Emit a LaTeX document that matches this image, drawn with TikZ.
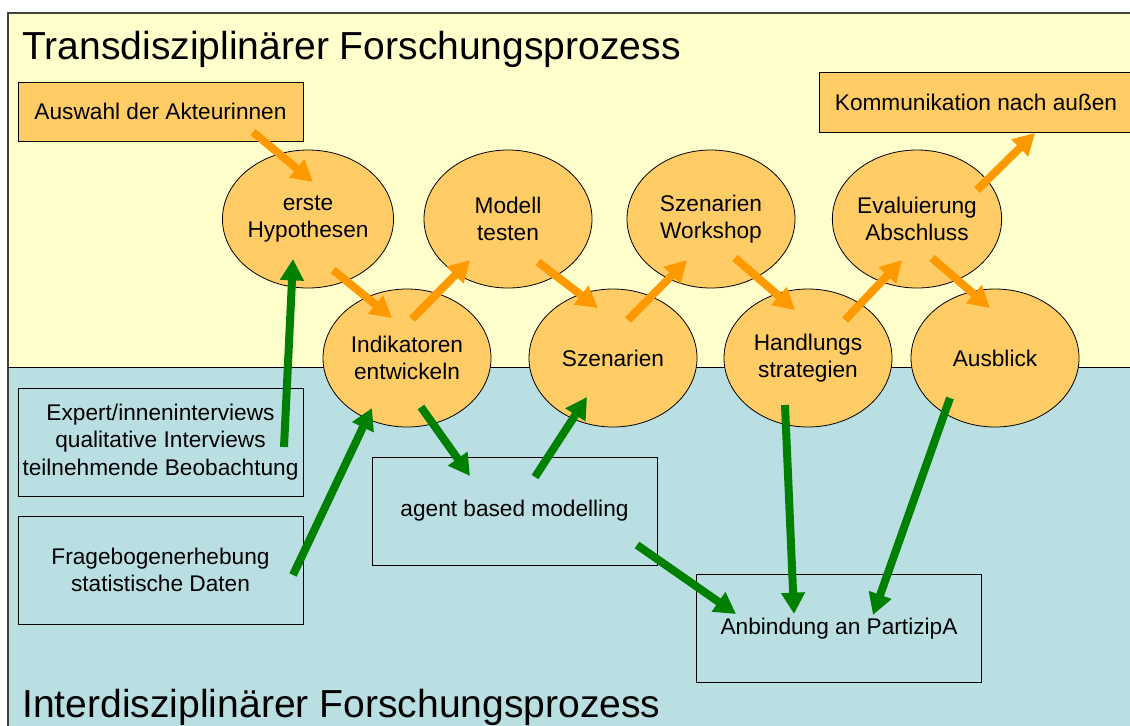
\documentclass[tikz,border=0pt]{standalone}
\usepackage{fontspec}
\setmainfont{Liberation Sans}
\usetikzlibrary{arrows.meta,shapes.geometric}
\definecolor{paleyellow}{HTML}{FFFFCC}
\definecolor{paleblue}{HTML}{B9DFE3}
\definecolor{ovalfill}{HTML}{FFCC66}
\definecolor{orangearrow}{HTML}{FF9900}
\definecolor{greenarrow}{HTML}{008000}
\tikzset{%
    >={Triangle[length=16pt,width=17pt]}
}

\begin{document}
\begin{tikzpicture}[x=0.75pt, y=-0.75pt,
  every node/.style={font=\fontsize{17}{20.6}\selectfont},
  heading/.style={anchor=base west, inner sep=0pt, font=\fontsize{29.3}{35}\selectfont},
  oval/.style={ellipse, draw, line width=0.6pt, fill=ovalfill, minimum width=126pt, minimum height=103.5pt, align=center, inner sep=0pt},
  textbox/.style={rectangle, draw, line width=0.6pt, minimum width=213.75pt, minimum height=81pt, align=center, inner sep=0pt},
  orangeflow/.style={->, draw=orangearrow, fill=orangearrow, line width=6pt},
  greenflow/.style={->, draw=greenarrow, fill=greenarrow, line width=6pt}]
  \useasboundingbox (0,0) rectangle (1130,725);
  \clip (0,0) rectangle (1130,725);

  \fill[white] (0,0) rectangle (1130,725);
  \fill[paleyellow] (8,13) rectangle (1140,367);
  \fill[paleblue] (8,367) rectangle (1140,740);
  \draw[line width=0.8pt, black!75] (8,740) -- (8,13) -- (1140,13);
  \draw[line width=0.6pt] (8,367) -- (1140,367);

  \node[heading] (transtitle) at (22,59) {Transdisziplinärer Forschungsprozess};
  \node[heading] (intertitle) at (22,717) {Interdisziplinärer Forschungsprozess};

  \node[rectangle, draw, line width=0.6pt, fill=ovalfill, minimum width=213.75pt, minimum height=44.25pt, inner sep=0pt] (auswahl) at (160.5,111.5) {Auswahl der Akteurinnen};
  \node[rectangle, draw, line width=0.6pt, fill=ovalfill, minimum width=235.5pt, minimum height=45pt, inner sep=0pt] (komm) at (976,102) {Kommunikation nach außen};

  \node[oval] (hyp) at (308,219) {erste\\Hypothesen};
  \node[oval] (mod) at (508,219) {Modell\\testen};
  \node[oval] (ws) at (711,219) {Szenarien\\Workshop};
  \node[oval] (eval) at (917,219) {Evaluierung\\Abschluss};
  \node[oval] (ind) at (407,358) {Indikatoren\\entwickeln};
  \node[oval] (szen) at (613,358) {Szenarien};
  \node[oval] (hand) at (808,358) {Handlungs\\strategien};
  \node[oval] (aus) at (995,358) {Ausblick};

  \node[textbox] (expert) at (160.5,442) {Expert/inneninterviews\\qualitative Interviews\\teilnehmende Beobachtung};
  \node[textbox] (frage) at (160.5,570) {Fragebogenerhebung\\statistische Daten};
  \node[textbox] (agent) at (514.5,511) {agent based modelling};
  \node[textbox] (anb) at (839,628.5) {Anbindung an PartizipA};

  \draw[orangeflow] ([shift={(92.5,20.5)}]auswahl.center) -- ([shift={(5,-37)}]hyp.center);
  \draw[orangeflow] ([shift={(25,51)}]hyp.center) -- ([shift={(-15,-40)}]ind.center);
  \draw[orangeflow] ([shift={(5,-39)}]ind.center) -- ([shift={(-38,41)}]mod.center);
  \draw[orangeflow] ([shift={(30,43)}]mod.center) -- ([shift={(-15,-50)}]szen.center);
  \draw[orangeflow] ([shift={(15,-38)}]szen.center) -- ([shift={(-24,41)}]ws.center);
  \draw[orangeflow] ([shift={(24,39)}]ws.center) -- ([shift={(-13,-48)}]hand.center);
  \draw[orangeflow] ([shift={(37,-38)}]hand.center) -- ([shift={(-15,41)}]eval.center);
  \draw[orangeflow] ([shift={(15,39)}]eval.center) -- ([shift={(-5,-50)}]aus.center);
  \draw[orangeflow] ([shift={(60,-29)}]eval.center) -- ([shift={(59,31)}]komm.center);

  \draw[greenflow] ([shift={(123.5,5)}]expert.center) -- ([shift={(-15,40)}]hyp.center);
  \draw[greenflow] ([shift={(132.5,5)}]frage.center) -- ([shift={(-35,50)}]ind.center);
  \draw[greenflow] ([shift={(14,49)}]ind.center) -- ([shift={(-44.5,-35)}]agent.center);
  \draw[greenflow] ([shift={(20.5,-34)}]agent.center) -- ([shift={(-26,39)}]szen.center);
  \draw[greenflow] ([shift={(122.5,34)}]agent.center) -- ([shift={(-103,-14.5)}]anb.center);
  \draw[greenflow] ([shift={(-23,47)}]hand.center) -- ([shift={(-45,-14.5)}]anb.center);
  \draw[greenflow] ([shift={(-45,40)}]aus.center) -- ([shift={(34,-13.5)}]anb.center);
\end{tikzpicture}
\end{document}
